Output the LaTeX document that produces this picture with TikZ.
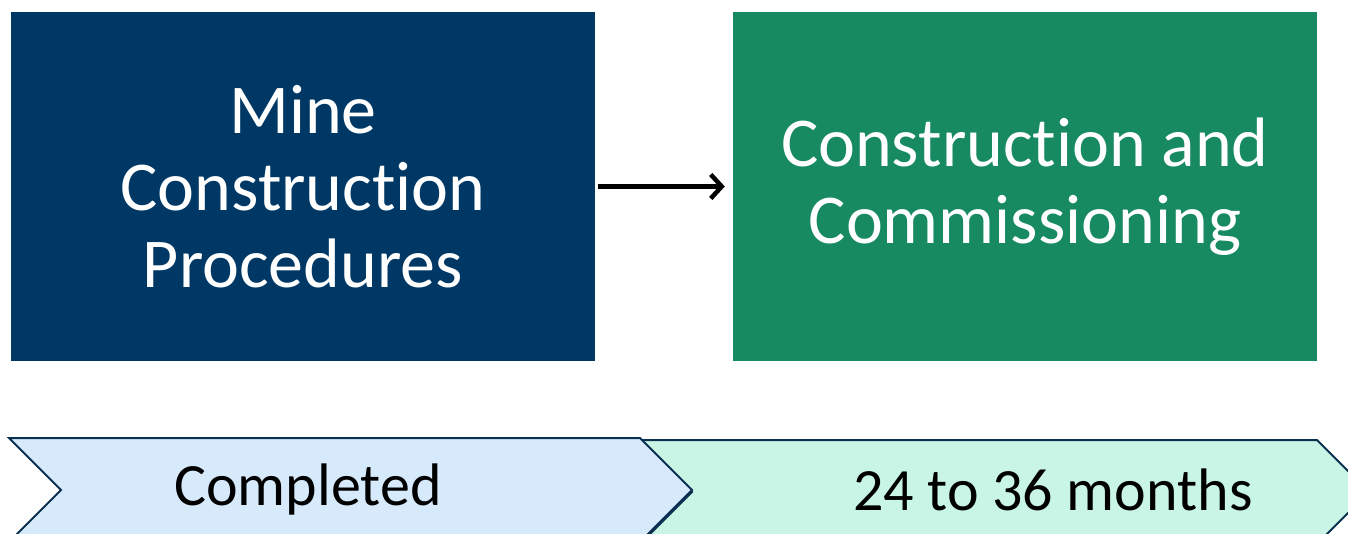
\documentclass[tikz,border=0pt]{standalone}
\usepackage{fontspec}
\setmainfont{Carlito}[Ligatures=NoCommon]
\usetikzlibrary{arrows.meta,shapes.symbols}
\definecolor{minebg}{HTML}{003865}
\definecolor{commbg}{HTML}{178A61}
\definecolor{donebg}{HTML}{D6EAFB}
\definecolor{buildbg}{HTML}{C8F5E5}
\definecolor{chevline}{HTML}{0B2F4F}

\begin{document}
\begin{tikzpicture}
  [x=1pt,y=-1pt,
   stagebox/.style={rectangle,minimum width=584pt,minimum height=349pt,inner sep=0pt,
     text=white,align=center,font=\fontsize{70}{77}\selectfont},
   chevron/.style={signal,signal from=west,signal to=east,draw=chevline,line width=2pt,
     minimum height=104pt,inner sep=0pt,outer sep=0pt},
   chevtext/.style={font=\fontsize{60}{70}\selectfont,inner sep=0pt}]
  \useasboundingbox (0,0) rectangle (1348,534);
  \clip (0,0) rectangle (1348,534);

  % phase boxes
  \node [stagebox,fill=minebg] (mine) at (303,186.5) {Mine\\Construction\\Procedures};
  \node [stagebox,fill=commbg] (comm) at (1025,186.5) {Construction and\\Commissioning};
  \draw [-{Straight Barb[length=11pt,width=24pt]},line width=4.5pt,shorten <=3pt,shorten >=8pt] (mine) -- (comm);

  % timeline
  \node [chevron,fill=buildbg,minimum width=729pt] (build) at (1004.5,492) {};
  \node [chevron,fill=donebg,minimum width=683pt] (done) at (350.5,490) {};
  \node [chevtext] (donetxt) at (308,490) {Completed};
  \node [chevtext] (buildtxt) at (1053,490) {24 to 36 months};
\end{tikzpicture}
\end{document}
